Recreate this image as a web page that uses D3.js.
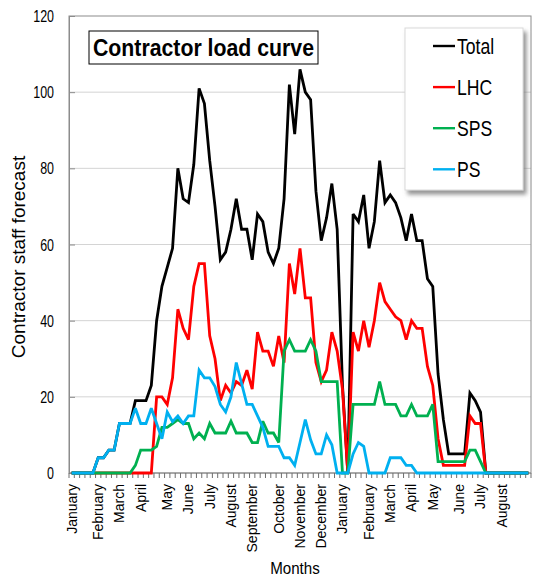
<!DOCTYPE html>
<meta charset="utf-8">
<script src="https://cdn.jsdelivr.net/npm/d3@7"></script>
<style>
  body { margin: 0; background: #fff; }
  text { font-family: "Liberation Sans", Arial, sans-serif; }
</style>
<div id="chart"></div>
<script>

// weekly categories, the month name sits on its first week
var months = ["January","February","March","April","May","June","July","August","September","October","November","December",
              "January","February","March","April","May","June","July","August"]
var monthWeeks = [0,5,9,13,18,22,26,30,34,39,43,47,51,56,60,64,68,73,77,81]

var total = [0,0,0,0,0,4,4,6,6,13,
  13,13,19,19,19,23,40,49,54,59,
  80,72,71,81,101,97,82,70,56,58,
  64,72,64,64,56,68,66,58,55,59,
  72,102,89,106,100,98,74,61,67,76,
  64,23,0,68,66,73,59,66,82,71,
  73,71,67,61,68,61,61,51,49,26,
  14,5,5,5,5,21,19,16,0,0,
  0,0,0,0,0,0,0]
var lhc = [0,0,0,0,0,0,0,0,0,0,
  0,0,0,0,0,0,20,20,18,25,
  43,38,35,49,55,55,36,30,19,23,
  21,24,23,27,22,37,32,32,28,36,
  29,55,47,59,46,46,29,24,27,37,
  32,22,0,37,32,40,33,40,50,45,
  43,41,40,35,40,38,38,28,23,9,
  2,2,2,2,2,15,13,13,0,0,
  0,0,0,0,0,0,0]
var sps = [0,0,0,0,0,0,0,0,0,0,
  0,0,2,6,6,6,7,12,12,13,
  14,13,13,9,10.5,9,13,10.5,10.5,10.5,
  13.6,10.5,10.5,10.5,8,8,13.6,10.5,10.5,8,
  32,35,32,32,32,35,32,24,24,24,
  24,0,0,18,18,18,18,18,24,18,
  18,18,15,15,18,15,15,15,18,3,
  3,3,3,3,3,6,6,3,0,0,
  0,0,0,0,0,0,0]
var ps = [0,0,0,0,0,4,4,6,6,13,
  13,13,17,13,13,17,13,9,16,13.5,
  15,13,15,15,27,25,25,22.7,18,16,
  20,29,23.5,18,18,15,12,7,7,7,
  4,4,2,8,14,8.7,5,5,10,7.4,
  0,0,0,5,8,7,0,0,0,0,
  4,4,4,2,2,0,0,0,0,0,
  0,0,0,0,0,0,0,0,0,0,
  0,0,0,0,0,0,0]

var seriesNames = ["Total", "LHC", "SPS", "PS"]
var seriesColors = ["#000000", "#ff0000", "#00b050", "#00b0f0"]
var yTicks = [0, 20, 40, 60, 80, 100, 120]

var width = 534, height = 576
var margin = {top: 16, right: 3, bottom: 103, left: 69}
var w = width - margin.left - margin.right
var h = height - margin.top - margin.bottom

var svg = d3.select("#chart").append("svg")
  .attr("width", width)
  .attr("height", height)

var defs = svg.append("defs")
var shadow = defs.append("filter").attr("id", "shadow")
  .attr("x", "-10%").attr("y", "-10%").attr("width", "130%").attr("height", "130%")
shadow.append("feDropShadow")
  .attr("dx", 3).attr("dy", 4).attr("stdDeviation", 2)
  .attr("flood-color", "#777").attr("flood-opacity", 0.8)

var g = svg.append("g")
  .attr("transform", "translate(" + margin.left + "," + margin.top + ")")

var weeks = d3.range(total.length)
var x = d3.scaleBand().domain(weeks).range([0, w]).padding(0)
var y = d3.scaleLinear().domain([0, 120]).range([h, 0])
var cx = function(i) { return x(i) + x.bandwidth() / 2 }

// gridlines
g.selectAll(".grid")
  .data(yTicks.filter(function(d) { return d > 0 && d < 120 }))
  .enter().append("line")
    .attr("x1", 0).attr("x2", w)
    .attr("y1", function(d) { return y(d) })
    .attr("y2", function(d) { return y(d) })
    .attr("stroke", "#d4d4d4")
    .attr("stroke-width", 1)

// plot frame
g.append("rect")
  .attr("width", w).attr("height", h)
  .attr("fill", "none").attr("stroke", "#8c8c8c").attr("stroke-width", 1)

// y axis
var yAxis = g.append("g")
  .call(d3.axisLeft(y).tickValues(yTicks).tickSize(-6).tickPadding(16).tickFormat(d3.format("d")))
yAxis.select(".domain").attr("stroke", "#8c8c8c")
yAxis.selectAll(".tick line").attr("stroke", "#8c8c8c")
yAxis.selectAll(".tick text").remove()

yAxis.selectAll(".ylab")
  .data(yTicks)
  .enter().append("text")
    .attr("transform", function(d) { return "translate(-15," + (y(d) + 6) + ") scale(0.78,1)" })
    .attr("text-anchor", "end")
    .attr("font-size", 16)
    .attr("fill", "#000")
    .text(function(d) { return d })

// x axis: a tick at every week boundary
var xa = g.append("g").attr("transform", "translate(0," + h + ")")
xa.append("line").attr("x1", 0).attr("x2", w).attr("stroke", "#8c8c8c")
xa.selectAll(".wk")
  .data(d3.range(total.length + 1))
  .enter().append("line")
    .attr("x1", function(i) { return i * x.step() })
    .attr("x2", function(i) { return i * x.step() })
    .attr("y1", 0).attr("y2", 5)
    .attr("stroke", "#6e6e6e")

xa.selectAll(".mlab")
  .data(months)
  .enter().append("text")
    .attr("transform", function(d, i) { return "translate(" + cx(monthWeeks[i]) + ",11) rotate(-90)" })
    .attr("text-anchor", "end")
    .attr("dy", "0.35em")
    .attr("font-size", 14)
    .attr("fill", "#000")
    .text(function(d) { return d })

// series, drawn in legend order so PS ends on top
var allSeries = [total, lhc, sps, ps]
var line = d3.line()
  .x(function(d, i) { return cx(i) })
  .y(function(d) { return y(d) })

g.selectAll(".series")
  .data(allSeries)
  .enter().append("path")
    .attr("d", line)
    .attr("fill", "none")
    .attr("stroke", function(d, i) { return seriesColors[i] })
    .attr("stroke-width", 2.8)
    .attr("stroke-linejoin", "miter")
    .attr("stroke-miterlimit", 3)

// title box
svg.append("rect")
  .attr("x", 89).attr("y", 31).attr("width", 229).attr("height", 33)
  .attr("fill", "#fff").attr("stroke", "#000").attr("stroke-width", 1)
svg.append("text")
  .attr("x", 93).attr("y", 56)
  .attr("font-size", 23).attr("font-weight", "bold")
  .attr("textLength", 221).attr("lengthAdjust", "spacingAndGlyphs")
  .text("Contractor load curve")

// legend
var legend = svg.append("g").attr("transform", "translate(405,28)")
legend.append("rect")
  .attr("width", 118).attr("height", 162)
  .attr("fill", "#fff").attr("stroke", "#d9d9d9")
  .attr("filter", "url(#shadow)")
var item = legend.selectAll(".item")
  .data(seriesNames)
  .enter().append("g")
    .attr("transform", function(d, i) { return "translate(0," + (18 + i * 41.1) + ")" })
item.append("line")
  .attr("x1", 28).attr("x2", 50)
  .attr("stroke", function(d, i) { return seriesColors[i] })
  .attr("stroke-width", 2.4)
item.append("text")
  .attr("transform", "translate(52,8) scale(0.8,1)")
  .attr("font-size", 22)
  .text(function(d) { return d })

// axis titles
svg.append("text")
  .attr("transform", "translate(25,257) rotate(-90)")
  .attr("text-anchor", "middle")
  .attr("font-size", 19)
  .text("Contractor staff forecast")

svg.append("text")
  .attr("transform", "translate(295,574) scale(0.89,1)")
  .attr("text-anchor", "middle")
  .attr("font-size", 17)
  .text("Months")

</script>
